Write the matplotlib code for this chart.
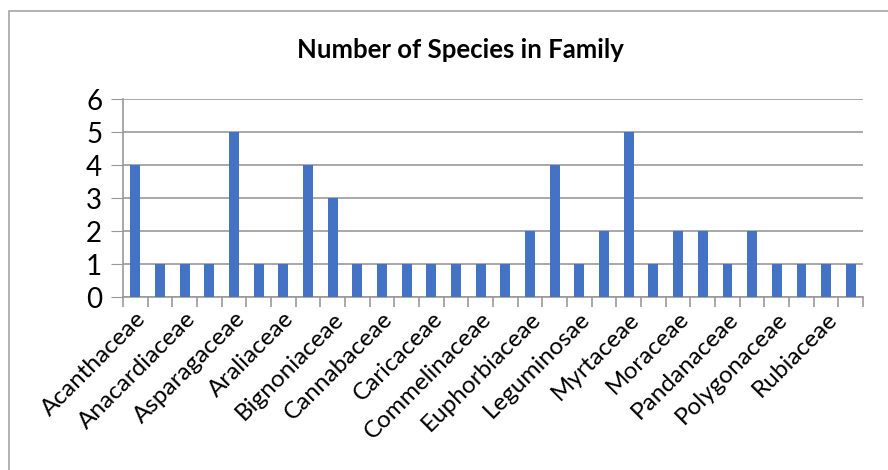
import numpy as np
import matplotlib.pyplot as plt
from matplotlib.patches import Rectangle

families = [
    "Acanthaceae", "", "Anacardiaceae", "", "Asparagaceae", "",
    "Araliaceae", "", "Bignoniaceae", "", "Cannabaceae", "",
    "Caricaceae", "", "Commelinaceae", "", "Euphorbiaceae", "",
    "Leguminosae", "", "Myrtaceae", "", "Moraceae", "",
    "Pandanaceae", "", "Polygonaceae", "", "Rubiaceae", "",
]
species = [4, 1, 1, 1, 5, 1, 1, 4, 3, 1, 1, 1, 1, 1, 1,
           1, 2, 4, 1, 2, 5, 1, 2, 2, 1, 2, 1, 1, 1, 1]

plt.rcParams["font.family"] = ["Lato", "DejaVu Sans"]

fig = plt.figure(figsize=(8.88, 4.70), dpi=100)
ax = fig.add_axes([0.1385, 0.368, 0.8335, 0.421])

# outer chart frame (only left and top edges fall inside the image)
fig.patches.append(Rectangle((9 / 888, -0.1), 2.0, 1.1 - 11 / 470,
                             transform=fig.transFigure, fill=False,
                             edgecolor="#a6a6a6", linewidth=1.2))

x = np.arange(len(species))
ax.bar(x, species, width=0.4, color="#4472c4", zorder=3)

ax.set_xlim(-0.5, len(species) - 0.5)
ax.set_ylim(0, 6)
ax.set_yticks(range(0, 7))
ax.yaxis.grid(True, color="#999999", linewidth=1.2, zorder=0)
ax.tick_params(axis="y", labelsize=20, length=9, color="#999999", pad=6)

# ticks sit between categories, labels at the category centres
ax.set_xticks(np.arange(-0.5, len(species)), labels=[])
ax.tick_params(axis="x", which="major", length=7, color="#999999", width=1.2)
ax.set_xticks(x, labels=families, minor=True)
ax.tick_params(axis="x", which="minor", length=0, labelsize=17.5, pad=8)
for lbl in ax.get_xticklabels(minor=True):
    lbl.set_rotation(45)
    lbl.set_ha("right")
    lbl.set_rotation_mode("anchor")

for side in ("top", "right"):
    ax.spines[side].set_visible(False)
for side in ("left", "bottom"):
    ax.spines[side].set_color("#999999")
    ax.spines[side].set_linewidth(1.2)

fig.text(0.5185, 0.893, "Number of Species in Family", ha="center",
         va="center", fontsize=18.5, fontweight="bold")

fig.savefig("out.png", dpi=100)
